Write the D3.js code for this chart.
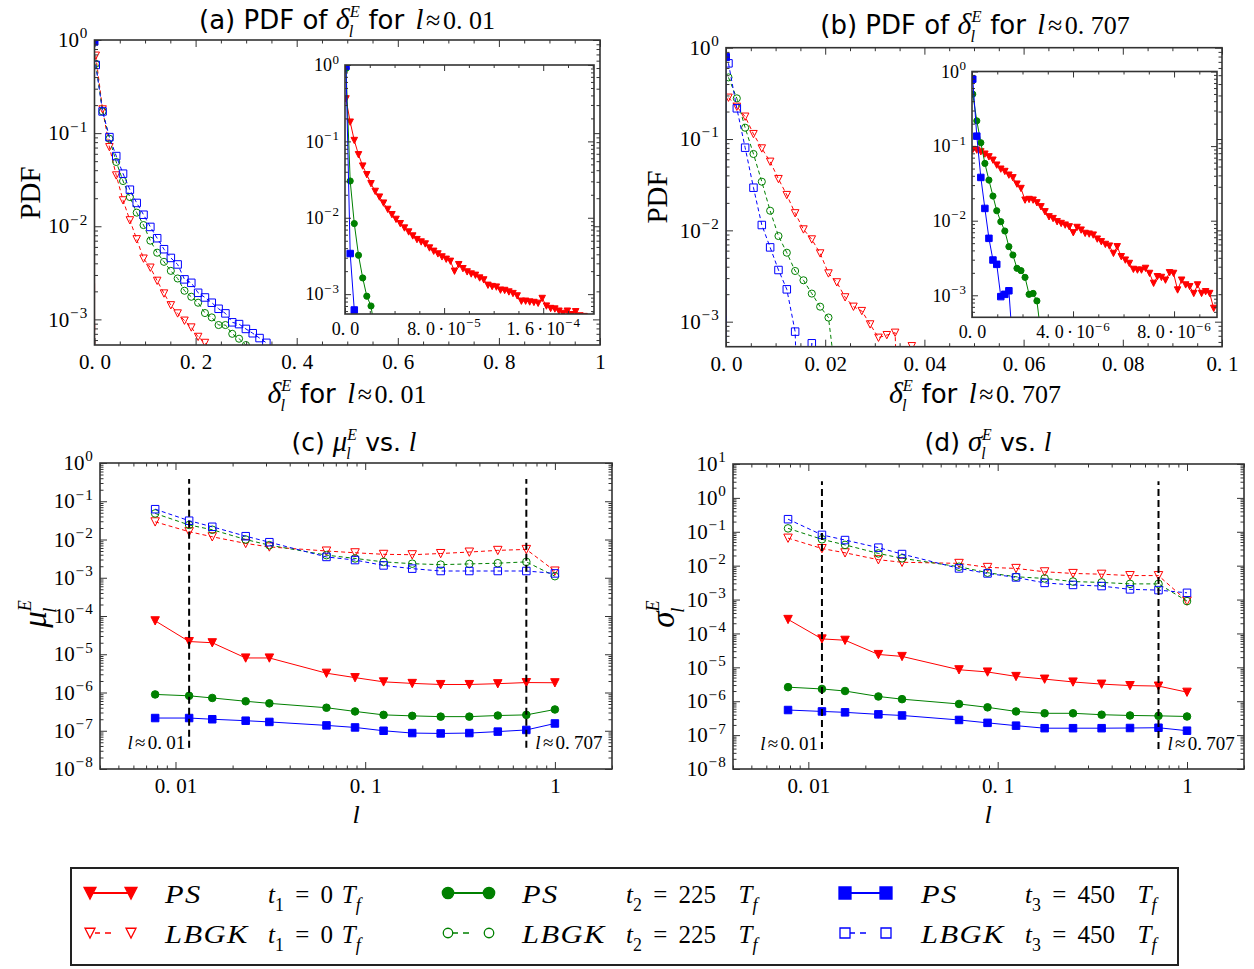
<!DOCTYPE html>
<html><head><meta charset="utf-8">
<script src="https://cdn.jsdelivr.net/npm/d3@7"></script>
<style>body{margin:0;background:#fff}svg{display:block}</style>
</head><body>
<script>
// ================= DATA =================
// Panel (a): LBGK PDF bins (main plot)
const aBins = [0.0025,0.016,0.0295,0.043,0.0565,0.07,0.0835,0.097,0.1105,0.124,0.1375,0.151,0.1645,0.178,0.1915,0.205,0.2185,0.232,0.2455,0.259,0.2725,0.286,0.2995,0.313,0.3265,0.34];
const aLBt1 = [0.68,0.18,0.0708,0.0352,0.019,0.0116,0.00726,0.0045,0.0036,0.0026,0.0019,0.00142,0.00116,0.00097,0.00082,0.00065,0.00056,0.00045];
const aLBt2 = [0.555,0.171,0.087,0.049,0.0306,0.0206,0.014,0.0103,0.007,0.0052,0.00415,0.00332,0.00275,0.00203,0.00175,0.00151,0.00117,0.00105,0.00087,0.00087,0.0007,0.00062,0.00053];
const aLBt3 = [0.54,0.171,0.0906,0.0567,0.0367,0.0247,0.0178,0.0133,0.00984,0.00744,0.00567,0.00457,0.00389,0.00269,0.00247,0.00193,0.00172,0.00151,0.0013,0.00116,0.00093,0.00089,0.00079,0.00071,0.00063,0.00056];
// Panel (a) inset: PS PDF bins (units 1e-6)
const aInBins = [0.8,4.2,7.5,10.9,14.3,17.6,21.0,24.4,27.8,31.1,34.5,37.9,41.2,44.6,48.0,51.4,54.7,58.1,61.5,64.8,68.2,71.6,75.0,78.3,81.7,85.1,88.4,91.8,95.2,98.6,101.9,105.3,108.7,112.0,115.4,118.8,122.2,125.5,128.9,132.3,135.6,139.0,142.4,145.8,149.1,152.5,155.9,159.2,162.6,166.0,169.4,172.7,176.1,179.5,182.8,186.2,189.6,193.0];
const aPSt1 = [0.361,0.179,0.103,0.067,0.0476,0.0367,0.028,0.0222,0.0187,0.0156,0.0129,0.011,0.00955,0.00839,0.00736,0.00653,0.00579,0.00519,0.00483,0.00455,0.00403,0.00365,0.00337,0.00308,0.00287,0.0027,0.002,0.00244,0.00216,0.00196,0.00184,0.00177,0.00163,0.00154,0.00131,0.00126,0.00124,0.00113,0.00112,0.00107,0.00102,0.00095,0.00081,0.00081,0.00079,0.00078,0.00076,0.00088,0.0007,0.00065,0.00064,0.0006,0.00056,0.0006,0.00054,0.00059,0.00052,0.00051];
const aPSt2 = [0.9,0.0303,0.0084,0.00323,0.00163,0.00094,0.0007,0.0003];
const aPSt3 = [0.96,0.0034,0.00062];

// Panel (b): LBGK PDF bins (main plot)
const bBins = [0.0005,0.00218,0.00386,0.00554,0.00722,0.0089,0.01058,0.01226,0.01394,0.01562,0.0173,0.01898,0.02066,0.02234,0.02402,0.0257,0.02738,0.02906,0.03074,0.03242,0.0341,0.03578,0.03746];
const bLBt1 = [0.284,0.226,0.176,0.1135,0.079,0.0565,0.0365,0.0244,0.0154,0.01025,0.00797,0.0056,0.00338,0.0027,0.00185,0.00146,0.00131,0.000935,0.000668,0.000714,0.000758,0.000001,0.00054];
const bLBt2 = [0.473,0.279,0.133,0.0686,0.0341,0.0164,0.00867,0.00569,0.00359,0.00284,0.00203,0.00146,0.00111,0.0002];
const bLBt3 = [0.674,0.217,0.0804,0.0293,0.01144,0.00651,0.00368,0.00226,0.000778,0.000001,0.00058,0.000001];
// Panel (b) inset: PS PDF bins (units 1e-6)
const bInBins = [0.03,0.19,0.35,0.51,0.67,0.83,0.98,1.14,1.30,1.46,1.62,1.78,1.94,2.10,2.26,2.42,2.57,2.73,2.89,3.05,3.21,3.37,3.53,3.69,3.85,4.01,4.16,4.32,4.48,4.64,4.80,4.96,5.12,5.28,5.44,5.60,5.75,5.91,6.07,6.23,6.39,6.55,6.71,6.87,7.03,7.19,7.34,7.50,7.66,7.82,7.98,8.14,8.30,8.46,8.62,8.78,8.93,9.09,9.25,9.41,9.57];
const bPSt1 = [0.0902,0.0884,0.084,0.0782,0.072,0.0649,0.0557,0.0492,0.0458,0.0409,0.0377,0.031,0.0271,0.0189,0.0193,0.0189,0.0174,0.0154,0.0132,0.0113,0.0107,0.0097,0.0092,0.00875,0.0083,0.0069,0.00814,0.0075,0.00677,0.00663,0.00643,0.00568,0.00523,0.00482,0.00458,0.00365,0.00449,0.0033,0.00297,0.00268,0.00223,0.00218,0.00218,0.0023,0.00197,0.00145,0.00178,0.00174,0.0016,0.00201,0.00197,0.00118,0.0016,0.00138,0.00131,0.00106,0.00138,0.00106,0.00112,0.00106,0.00067];
const bPSt2 = [0.497,0.218,0.111,0.0586,0.035,0.0214,0.0136,0.0097,0.00728,0.00449,0.00347,0.0023,0.00214,0.00174,0.00103,0.00106,0.00084,0.0003];
const bPSt3 = [0.79,0.136,0.038,0.0146,0.0058,0.00297,0.0026,0.00096,0.00103,0.00115,0.0002];

// Panels (c), (d): statistics vs l
const lValues = [0.0078125,0.0118,0.015625,0.0234375,0.03125,0.0625,0.0884,0.125,0.177,0.25,0.354,0.5,0.707,1.0];
const muPSt1 = [7.5e-5,2.15e-5,2.0e-5,8e-6,8e-6,3.2e-6,2.45e-6,1.9e-6,1.73e-6,1.62e-6,1.62e-6,1.7e-6,1.82e-6,1.8e-6];
const muPSt2 = [8.9e-7,8.2e-7,7.2e-7,5.9e-7,5.2e-7,4.0e-7,3.2e-7,2.6e-7,2.45e-7,2.34e-7,2.34e-7,2.5e-7,2.6e-7,3.6e-7];
const muPSt3 = [2.15e-7,2.15e-7,2.0e-7,1.83e-7,1.7e-7,1.38e-7,1.22e-7,1.0e-7,8.7e-8,8.5e-8,8.7e-8,9.5e-8,1.05e-7,1.55e-7];
const muLBt1 = [2.9e-2,1.6e-2,1.18e-2,7.9e-3,6.4e-3,5.0e-3,4.5e-3,4.1e-3,4.0e-3,4.3e-3,4.7e-3,5.2e-3,5.5e-3,1.5e-3];
const muLBt2 = [4.8e-2,2.4e-2,1.8e-2,1.0e-2,7.1e-3,3.9e-3,3.2e-3,2.6e-3,2.33e-3,2.2e-3,2.3e-3,2.4e-3,2.6e-3,1.1e-3];
const muLBt3 = [6.2e-2,3.1e-2,2.15e-2,1.22e-2,8.5e-3,3.5e-3,2.9e-3,2.1e-3,1.73e-3,1.5e-3,1.5e-3,1.5e-3,1.5e-3,1.3e-3];
const sgPSt1 = [2.6e-4,6.9e-5,6.3e-5,2.4e-5,2.1e-5,8.5e-6,7.3e-6,5.4e-6,4.5e-6,3.7e-6,3.2e-6,2.9e-6,2.8e-6,1.85e-6];
const sgPSt2 = [2.6e-6,2.3e-6,2.0e-6,1.38e-6,1.15e-6,8.3e-7,6.6e-7,5.0e-7,4.4e-7,4.4e-7,4.0e-7,3.8e-7,3.7e-7,3.55e-7];
const sgPSt3 = [5.5e-7,5.0e-7,4.7e-7,4.1e-7,3.8e-7,2.8e-7,2.3e-7,1.9e-7,1.6e-7,1.6e-7,1.6e-7,1.62e-7,1.65e-7,1.35e-7];
const sgLBt1 = [6.5e-2,3.2e-2,2.4e-2,1.5e-2,1.26e-2,1.17e-2,8.9e-3,8.3e-3,6.6e-3,5.9e-3,5.6e-3,5.1e-3,5.1e-3,9.1e-4];
const sgLBt2 = [1.26e-1,6.0e-2,4.1e-2,2.3e-2,1.65e-2,9.3e-3,6.2e-3,4.7e-3,4.2e-3,3.4e-3,3.2e-3,2.9e-3,2.9e-3,9e-4];
const sgLBt3 = [2.35e-1,8.1e-2,5.7e-2,3.4e-2,2.2e-2,8.3e-3,5.9e-3,4.5e-3,3.1e-3,2.7e-3,2.5e-3,2.0e-3,1.9e-3,1.58e-3];
const refL = [0.0118, 0.707];
const cRefSpan = [3.6e-8, 0.38];
const dRefSpan = [3.9e-8, 3.1];

// Tick values and labels
const aXTicks = [0,0.2,0.4,0.6,0.8,1];
const aXLabels = ["0.0","0.2","0.4","0.6","0.8","1"];
const bXTicks = [0,0.02,0.04,0.06,0.08,0.1];
const bXLabels = ["0.0","0.02","0.04","0.06","0.08","0.1"];
const aiXTicks = [0,8e-5,1.6e-4];
const aiXLabels = ["0.0","8.0·10^−5","1.6·10^−4"];
const biXTicks = [0,4e-6,8e-6];
const biXLabels = ["0.0","4.0·10^−6","8.0·10^−6"];
const lXTicks = [0.01,0.1,1];
const lXLabels = ["0.01","0.1","1"];
const legendNames = ["PS","LBGK"];
const legendTimes = [["1","0"],["2","225"],["3","450"]];

// ================= STYLE / LAYOUT =================
const SERIF = "'Liberation Serif','DejaVu Serif',serif";
const SANS = "'DejaVu Sans',sans-serif";
const RED="#ff0000", GREEN="#008000", BLUE="#0000ff", FRAME="#333";
const svg = d3.select("body").append("svg").attr("width",1254).attr("height",969)
  .style("font-family",SERIF);

// rich text: parts {t, s(sans), it, sub, sup, dx(em), k(size factor)}
function rich(parent, x, y, parts, F, anchor, rot, opt){
  const o = Object.assign({ss:0.62, up:0.44, dn:0.30}, opt||{});
  const t = parent.append("text").attr("x",x).attr("y",y).attr("font-size",F)
    .attr("text-anchor",anchor||"start").attr("fill","#000");
  if(rot) t.attr("transform",`rotate(${rot},${x},${y})`);
  let cur=0;
  parts.forEach(p=>{
    const lvl = p.sub ? o.dn*F : (p.sup ? -o.up*F : 0);
    const fs = (p.sub||p.sup) ? o.ss*F*(p.k||1) : F*(p.k||1);
    const ts = t.append("tspan").attr("font-family", p.s?SANS:SERIF)
      .attr("font-style", p.it?"italic":"normal").attr("font-size", fs).text(p.t);
    if(lvl!==cur){ ts.attr("dy", lvl-cur); cur=lvl; }
    if(p.dx) ts.attr("dx", p.dx*F);
  });
  return t;
}
// tick label with math-like spacing after "." and around "·", optional superscript after "^"
function fillLabel(t, spec, F){
  t.text(null);
  const parts = spec.split("^");
  const toks = parts[0].split(/(\.|·)/).filter(s=>s!=="");
  let gap = 0;
  toks.forEach(tok=>{
    let dx = gap; gap = 0;
    if(tok==="."){ t.append("tspan").attr("dx",dx||null).text("."); gap = 0.28*F; return; }
    if(tok==="·"){ t.append("tspan").attr("dx",0.18*F).text("·"); gap = 0.18*F; return; }
    t.append("tspan").attr("dx",dx||null).text(tok);
  });
  if(parts.length>1) t.append("tspan").attr("font-size",0.72*F).attr("dy",-0.42*F).attr("dx",0.03*F)
    .attr("letter-spacing",0.06*F).text(parts[1]);
}
function logMajors(d){const lo=Math.ceil(Math.log10(d[0])-1e-9),hi=Math.floor(Math.log10(d[1])+1e-9);return d3.range(lo,hi+1).map(e=>Math.pow(10,e));}
function logMinors(d){const o=[];const lo=Math.floor(Math.log10(d[0])),hi=Math.ceil(Math.log10(d[1]));for(let e=lo;e<hi;e++)for(let k=2;k<10;k++){const v=k*Math.pow(10,e);if(v>=d[0]*0.9999&&v<=d[1]*1.0001)o.push(v);}return o;}
function expLabel(v){const e=Math.round(Math.log10(v));return "10^"+(e<0?"\u2212"+(-e):String(e));}

let clipN=0;
function panel(cfg){
  const g = svg.append("g");
  const x = (cfg.xlog?d3.scaleLog():d3.scaleLinear()).domain(cfg.xd).range([cfg.x0,cfg.x1]);
  const y = d3.scaleLog().domain(cfg.yd).range([cfg.y1,cfg.y0]);
  const id = "clip"+(clipN++);
  svg.append("clipPath").attr("id",id).append("rect").attr("x",cfg.x0).attr("y",cfg.y0)
    .attr("width",cfg.x1-cfg.x0).attr("height",cfg.y1-cfg.y0);
  if(cfg.bg) g.append("rect").attr("x",cfg.x0).attr("y",cfg.y0).attr("width",cfg.x1-cfg.x0)
    .attr("height",cfg.y1-cfg.y0).attr("fill","#fff");
  const data = g.append("g").attr("clip-path",`url(#${id})`);
  return {g,x,y,data,cfg};
}
function axes(P, xTicks, xLabels, xMinors){
  const {g,x,y,cfg} = P; const F=cfg.fs, TL=cfg.tl, TM=cfg.tm;
  const yMaj=logMajors(cfg.yd), yMin=logMinors(cfg.yd);
  const defs=[
    [d3.axisLeft(y).tickValues(yMaj), `translate(${cfg.x0},0)`, TL, true, "y"],
    [d3.axisLeft(y).tickValues(yMin), `translate(${cfg.x0},0)`, TM, false],
    [d3.axisRight(y).tickValues(yMaj), `translate(${cfg.x1},0)`, TL, false],
    [d3.axisRight(y).tickValues(yMin), `translate(${cfg.x1},0)`, TM, false],
    [d3.axisBottom(x).tickValues(xTicks), `translate(0,${cfg.y1})`, TL, true, "x"],
    [d3.axisBottom(x).tickValues(xMinors), `translate(0,${cfg.y1})`, TM, false],
    [d3.axisTop(x).tickValues(xTicks), `translate(0,${cfg.y0})`, TL, false],
    [d3.axisTop(x).tickValues(xMinors), `translate(0,${cfg.y0})`, TM, false]
  ];
  defs.forEach(([ax,tr,len,lab,kind])=>{
    ax.tickSize(-len).tickPadding(kind==="x"?cfg.xpad:cfg.ypad).tickFormat(()=> "");
    const ag = g.append("g").attr("transform",tr).call(ax);
    ag.select(".domain").remove();
    ag.attr("font-family",SERIF).attr("font-size",F).attr("color",FRAME);
    ag.selectAll(".tick line").attr("stroke-width",1);
    if(lab){
      ag.selectAll(".tick text").attr("fill","#000").each(function(d,i){
        const spec = kind==="y" ? expLabel(d) : xLabels[i];
        fillLabel(d3.select(this), spec, F);
      });
    } else ag.selectAll(".tick text").remove();
  });
  g.append("rect").attr("x",cfg.x0).attr("y",cfg.y0).attr("width",cfg.x1-cfg.x0)
    .attr("height",cfg.y1-cfg.y0).attr("fill","none").attr("stroke",FRAME).attr("stroke-width",1.6);
}
function markerPath(shape, s){
  const h=s/2;
  if(shape==="tri") return `M${-h},${-h*0.95}L${h},${-h*0.95}L0,${h}Z`;
  if(shape==="sq") return `M${-h},${-h}H${h}V${h}H${-h}Z`;
  return d3.symbol(d3.symbolCircle, Math.PI*h*h*0.9)();
}
// nMark: number of leading points that get markers (undefined = all)
function series(P, xs, ys, color, shape, filled, dashed, ms, xscale, nMark){
  const k = xscale||1;
  const pts = xs.slice(0,ys.length).map((v,i)=>[v*k, ys[i]]);
  P.data.append("path").attr("d", d3.line().x(d=>P.x(d[0])).y(d=>P.y(d[1]))(pts))
    .attr("fill","none").attr("stroke",color).attr("stroke-width",1)
    .attr("stroke-dasharray", dashed?"4,3":null);
  const lo=P.cfg.yd[0]*0.7;
  const mp = (nMark===undefined ? pts : pts.slice(0,nMark)).filter(d=>d[1]>=lo);
  P.data.selectAll(null).data(mp).enter().append("path")
    .attr("d", markerPath(shape, ms))
    .attr("transform", d=>`translate(${P.x(d[0])},${P.y(d[1])})`)
    .attr("fill", filled?color:"none").attr("stroke",color).attr("stroke-width",1);
}

// ---------------- Panel (a) ----------------
const A = panel({x0:94.5,x1:600,y0:40,y1:345,xd:[0,1],yd:[Math.pow(10,-3.275),1],fs:21,tl:7,tm:3.5,xpad:9,ypad:6});
series(A, aInBins, aPSt1, RED, "tri", true, false, 7, 1e-6, 0);
series(A, aBins, aLBt1, RED, "tri", false, true, 7.5);
series(A, aInBins, aPSt2, GREEN, "circ", true, false, 7, 1e-6, 0);
series(A, aBins, aLBt2, GREEN, "circ", false, true, 7.5);
series(A, aInBins, aPSt3, BLUE, "sq", true, false, 7, 1e-6, 1);
series(A, aBins, aLBt3, BLUE, "sq", false, true, 7.5);
axes(A, aXTicks, aXLabels, d3.range(0.05,1,0.05).filter(v=>Math.abs(v*5-Math.round(v*5))>1e-6));

const AI = panel({x0:345,x1:594,y0:65,y1:314,xd:[0,2.01e-4],yd:[Math.pow(10,-3.26),1],fs:18,tl:6,tm:3,xpad:8,ypad:5,bg:true});
series(AI, aInBins, aPSt1, RED, "tri", true, false, 6.5, 1e-6);
series(AI, aInBins, aPSt2, GREEN, "circ", true, false, 6.5, 1e-6);
series(AI, aInBins, aPSt3, BLUE, "sq", true, false, 6.5, 1e-6);
axes(AI, aiXTicks, aiXLabels, [2e-5,4e-5,6e-5,1e-4,1.2e-4,1.4e-4,1.8e-4,2e-4]);

// ---------------- Panel (b) ----------------
const B = panel({x0:726,x1:1222,y0:47.7,y1:346.7,xd:[0,0.1],yd:[Math.pow(10,-3.274),1],fs:21,tl:7,tm:3.5,xpad:9,ypad:6});
series(B, bInBins, bPSt1, RED, "tri", true, false, 7, 1e-6, 0);
series(B, bBins, bLBt1, RED, "tri", false, true, 7.5);
series(B, bInBins, bPSt2, GREEN, "circ", true, false, 7, 1e-6, 0);
series(B, bBins, bLBt2, GREEN, "circ", false, true, 7.5);
series(B, bInBins, bPSt3, BLUE, "sq", true, false, 7, 1e-6, 1);
series(B, bBins, bLBt3, BLUE, "sq", false, true, 7.5);
axes(B, bXTicks, bXLabels, d3.range(1,20).filter(i=>i%4!==0).map(i=>i*0.005));

const BI = panel({x0:972,x1:1217,y0:71.5,y1:317.3,xd:[0,9.7e-6],yd:[Math.pow(10,-3.295),1],fs:18,tl:6,tm:3,xpad:8,ypad:5,bg:true});
series(BI, bInBins, bPSt1, RED, "tri", true, false, 6.5, 1e-6);
series(BI, bInBins, bPSt2, GREEN, "circ", true, false, 6.5, 1e-6);
series(BI, bInBins, bPSt3, BLUE, "sq", true, false, 6.5, 1e-6);
axes(BI, biXTicks, biXLabels, [1e-6,2e-6,3e-6,5e-6,6e-6,7e-6,9e-6]);

// ---------------- Panels (c), (d) ----------------
function statPanel(cfg, s, span){
  const P = panel(cfg);
  series(P, lValues, s[0], RED, "tri", true, false, 8.5);
  series(P, lValues, s[1], RED, "tri", false, true, 8.5);
  series(P, lValues, s[2], GREEN, "circ", true, false, 8);
  series(P, lValues, s[3], GREEN, "circ", false, true, 8);
  series(P, lValues, s[4], BLUE, "sq", true, false, 7.5);
  series(P, lValues, s[5], BLUE, "sq", false, true, 7.5);
  refL.forEach(v=>{
    P.data.append("line").attr("x1",P.x(v)).attr("x2",P.x(v)).attr("y1",P.y(span[0])).attr("y2",P.y(span[1]))
      .attr("stroke","#000").attr("stroke-width",2).attr("stroke-dasharray","7,4");
  });
  axes(P, lXTicks, lXLabels, logMinors(cfg.xd));
  const yb = P.y(span[0]) + 1;
  rich(P.g, P.x(refL[0])-4, yb, [{t:"l",it:1},{t:"≈",dx:0.12},{t:"0.",dx:0.12},{t:"01",dx:0.22}], 19, "end");
  rich(P.g, P.x(refL[1])+9, yb, [{t:"l",it:1},{t:"≈",dx:0.12},{t:"0.",dx:0.12},{t:"707",dx:0.22}], 19, "start");
  return P;
}
const C = statPanel({x0:100,x1:612,y0:463,y1:769,xd:[0.004,2],yd:[1e-8,1],xlog:true,fs:21,tl:7,tm:3.5,xpad:9,ypad:6},
  [muPSt1,muLBt1,muPSt2,muLBt2,muPSt3,muLBt3], cRefSpan);
const D = statPanel({x0:733,x1:1244,y0:464,y1:769,xd:[0.004,2],yd:[1e-8,10],xlog:true,fs:21,tl:7,tm:3.5,xpad:9,ypad:6},
  [sgPSt1,sgLBt1,sgPSt2,sgLBt2,sgPSt3,sgLBt3], dRefSpan);

// ---------------- Titles & axis labels ----------------
const M = 1.15; // math glyph size factor
const TOPT = {ss:0.55, up:0.46, dn:0.30};
const stack = (g)=>[{t:g,it:1,k:M},{t:"E",sup:1,it:1,k:M},{t:"l",sub:1,it:1,k:M,dx:-0.42}];
const approx = (v)=>[{t:"l",it:1,k:1.1,dx:0.12},{t:"≈",dx:0.1},{t:"0.",dx:0.1},{t:v,dx:0.25}];
rich(svg, 347, 29, [{t:"(a) PDF of ",s:1}, ...stack("δ"), {t:" for ",s:1,dx:0.26}, ...approx("01")], 26, "middle", 0, TOPT);
rich(svg, 975, 34, [{t:"(b) PDF of ",s:1}, ...stack("δ"), {t:" for ",s:1,dx:0.26}, ...approx("707")], 26, "middle", 0, TOPT);
rich(svg, 347, 403, [...stack("δ"), {t:" for ",s:1,dx:0.26}, ...approx("01")], 26, "middle", 0, TOPT);
rich(svg, 975, 403, [...stack("δ"), {t:" for ",s:1,dx:0.26}, ...approx("707")], 26, "middle", 0, TOPT);
rich(svg, 40, 193, [{t:"PDF"}], 29, "middle", -90);
rich(svg, 667, 197, [{t:"PDF"}], 29, "middle", -90);

rich(svg, 354, 451, [{t:"(c) ",s:1}, ...stack("μ"), {t:" vs. ",s:1,dx:0.26},{t:"l",it:1,k:1.1}], 25, "middle", 0, TOPT);
rich(svg, 988, 451, [{t:"(d) ",s:1}, ...stack("σ"), {t:" vs. ",s:1,dx:0.26},{t:"l",it:1,k:1.1}], 25, "middle", 0, TOPT);
rich(svg, 356, 823, [{t:"l",it:1}], 26, "middle");
rich(svg, 988, 823, [{t:"l",it:1}], 26, "middle");
rich(svg, 46, 614, [{t:"μ",it:1},{t:"E",sup:1,it:1},{t:"l",sub:1,it:1,dx:-0.38}], 33, "middle", -90, TOPT);
rich(svg, 674, 614, [{t:"σ",it:1},{t:"E",sup:1,it:1},{t:"l",sub:1,it:1,dx:-0.38}], 33, "middle", -90, TOPT);

// ---------------- Legend ----------------
const lg = svg.append("g");
lg.append("rect").attr("x",71).attr("y",868).attr("width",1107).attr("height",97)
  .attr("fill","#fff").attr("stroke","#222").attr("stroke-width",2);
const legCols = [{mx:[90,131],tx:165,tt:268,c:RED,sh:"tri",gap:0.35},{mx:[448,489],tx:522,tt:626,c:GREEN,sh:"circ",gap:0.9},{mx:[845,886],tx:921,tt:1025,c:BLUE,sh:"sq",gap:0.9}];
const rowsY = [893, 933];
legCols.forEach((col,ci)=>{
  rowsY.forEach((ry,ri)=>{
    const filled = ri===0;
    lg.append("line").attr("x1",col.mx[0]).attr("x2",col.mx[1]).attr("y1",ry).attr("y2",ry)
      .attr("stroke",col.c).attr("stroke-width",filled?2:1.3).attr("stroke-dasharray",filled?null:"0,5,5,5,6,30");
    col.mx.forEach(mx=>{
      lg.append("path").attr("d",markerPath(col.sh, filled?12:10)).attr("transform",`translate(${mx},${ry})`)
        .attr("fill",filled?col.c:"none").attr("stroke",col.c).attr("stroke-width",1.3);
    });
    const ny = ry+10;
    rich(lg, col.tx, ny, [{t:legendNames[ri],it:1}], 25, "start")
      .attr("letter-spacing",1.2)
      .attr("transform",`translate(${col.tx},${ny}) scale(1.22,1) translate(${-col.tx},${-ny})`);
    const tm = legendTimes[ci];
    rich(lg, col.tt, ny, [{t:"t",it:1},{t:tm[0],sub:1,k:1.05},{t:"=",dx:0.45},{t:tm[1],dx:0.45},{t:"T",it:1,dx:col.gap},{t:"f",sub:1,it:1,k:1.05}], 25, "start", 0, {ss:0.68});
  });
});
</script>
</body></html>
